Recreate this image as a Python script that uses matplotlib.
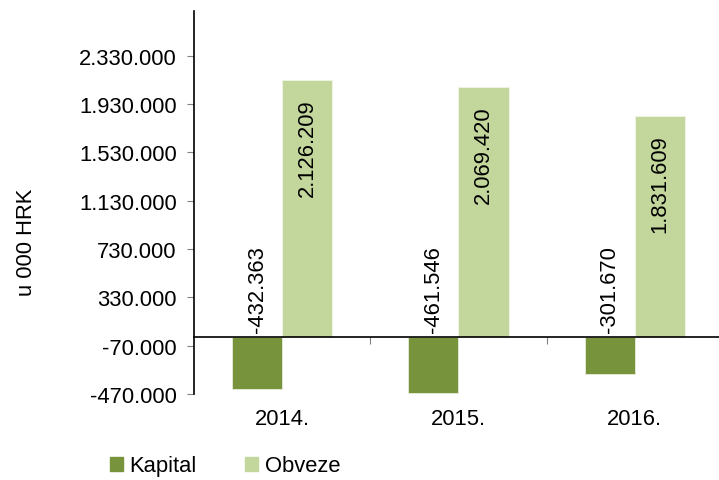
import matplotlib.pyplot as plt
from matplotlib.patches import Patch
from matplotlib.transforms import blended_transform_factory

plt.rcParams['font.family'] = ['Liberation Sans', 'DejaVu Sans']

years = ['2014.', '2015.', '2016.']
kapital = [-432363, -461546, -301670]
obveze = [2126209, 2069420, 1831609]
yticks = [-470000, -70000, 330000, 730000, 1130000, 1530000, 1930000, 2330000]

c_kapital = '#77933C'
c_obveze = '#C3D69B'
fs = 15.8


def fmt(v):
    # thousand separators as dots
    return f'{v:,}'.replace(',', '.')


fig = plt.figure(figsize=(7.19, 4.81), dpi=100)
ax = fig.add_axes([194 / 719, 1 - 395 / 481, (723 - 194) / 719, (395 - 12) / 481])

w = 0.284
x = list(range(len(years)))
b1 = ax.bar([i - w / 2 for i in x], kapital, width=w, color=c_kapital, edgecolor='#e8eedc', linewidth=0.6)
b2 = ax.bar([i + w / 2 for i in x], obveze, width=w, color=c_obveze, edgecolor='#f0f4e6', linewidth=0.6)

ax.set_xlim(-0.5, 2.5)
ax.set_ylim(-470000, 2700000)

# value labels, rotated
for i, v in enumerate(kapital):
    ax.annotate(fmt(v), (i - w / 2, 0), xytext=(0, 4), textcoords='offset points',
                rotation=90, ha='center', va='bottom', fontsize=fs)
for i, v in enumerate(obveze):
    ax.annotate(fmt(v), (i + w / 2, v), xytext=(0, -13), textcoords='offset points',
                rotation=90, ha='center', va='top', fontsize=fs)

# spines
for s in ['top', 'right']:
    ax.spines[s].set_visible(False)
ax.spines['bottom'].set_position(('data', 0))
ax.spines['bottom'].set_linewidth(1.2)
ax.spines['left'].set_linewidth(1.2)

ax.set_yticks(yticks)
ax.set_yticklabels([fmt(t) for t in yticks], fontsize=fs)
ax.tick_params(axis='y', length=5, color='#808080', pad=7.5)

ax.set_xticks([0.5, 1.5])
ax.set_xticklabels([])
ax.tick_params(axis='x', length=5, color='#808080', direction='out')

# category labels under the plot area
trans = blended_transform_factory(ax.transData, ax.transAxes)
for i, yr in enumerate(years):
    ax.text(i, -0.065, yr, transform=trans, ha='center', va='center', fontsize=fs)

fig.text(26 / 719, 1 - 242 / 481, 'u 000 HRK', rotation=90, ha='center', va='center', fontsize=fs)

handles = [Patch(color=c_kapital, label='Kapital'), Patch(color=c_obveze, label='Obveze')]
fig.legend(handles=handles, loc='center', bbox_to_anchor=(225 / 719, 1 - 467 / 481), ncol=2,
           frameon=False, fontsize=fs, handlelength=0.6, handleheight=0.6,
           handletextpad=0.3, columnspacing=2.2)

fig.savefig('out.png', dpi=100)
